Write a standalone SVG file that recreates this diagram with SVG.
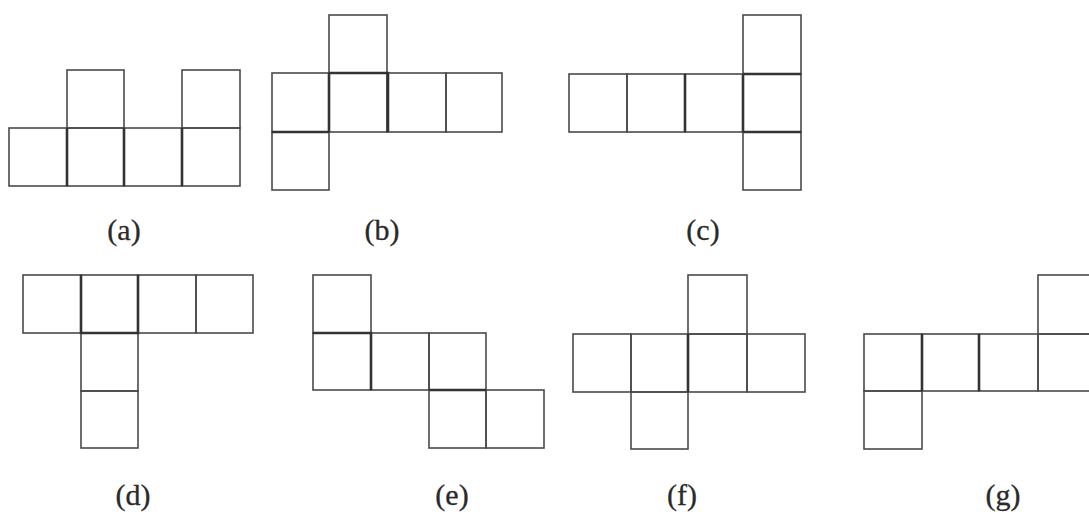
<svg xmlns="http://www.w3.org/2000/svg" width="1089" height="512" viewBox="0 0 1089 512">
<style>
.sq{fill:none;stroke:#4a4a4a;stroke-width:1.6}
.tk{fill:none;stroke:#333;stroke-width:2.6}
.lb{font-family:"Liberation Serif","DejaVu Serif",serif;font-size:30px;fill:#2a2a2a;stroke:#2a2a2a;stroke-width:0.3;text-anchor:middle}
</style>
<rect width="1089" height="512" fill="#fff"/>
<g id="a">
<rect class="sq" x="9" y="128" width="58" height="58"/>
<rect class="sq" x="67" y="128" width="57" height="58"/>
<rect class="sq" x="124" y="128" width="58" height="58"/>
<rect class="sq" x="182" y="128" width="58" height="58"/>
<rect class="sq" x="67" y="70" width="57" height="58"/>
<rect class="sq" x="182" y="70" width="58" height="58"/>
<path class="tk" d="M67 128V186M124 128V186M182 128V186"/>
<text class="lb" x="124" y="240">(a)</text>
</g>
<g id="b">
<rect class="sq" x="329" y="15" width="58" height="58"/>
<rect class="sq" x="272" y="73" width="57" height="59"/>
<rect class="sq" x="329" y="73" width="58" height="59"/>
<rect class="sq" x="387" y="73" width="59" height="59"/>
<rect class="sq" x="446" y="73" width="56" height="59"/>
<rect class="sq" x="272" y="132" width="57" height="58"/>
<path class="tk" d="M329 73H388V132M272 132H329M329 73V132"/>
<text class="lb" x="382" y="240">(b)</text>
</g>
<g id="c">
<rect class="sq" x="569" y="74" width="58" height="58"/>
<rect class="sq" x="627" y="74" width="58" height="58"/>
<rect class="sq" x="685" y="74" width="58" height="58"/>
<rect class="sq" x="743" y="74" width="58" height="58"/>
<rect class="sq" x="743" y="15" width="58" height="59"/>
<rect class="sq" x="743" y="132" width="58" height="58"/>
<path class="tk" d="M685 74V132M743 74V132M743 74H801M743 132H801"/>
<text class="lb" x="703" y="240">(c)</text>
</g>
<g id="d">
<rect class="sq" x="23" y="275" width="58" height="58"/>
<rect class="sq" x="81" y="275" width="57" height="58"/>
<rect class="sq" x="138" y="275" width="58" height="58"/>
<rect class="sq" x="196" y="275" width="57" height="58"/>
<rect class="sq" x="81" y="333" width="57" height="58"/>
<rect class="sq" x="81" y="391" width="57" height="57"/>
<path class="tk" d="M81 275V333H138V275"/>
<text class="lb" x="133" y="505">(d)</text>
</g>
<g id="e">
<rect class="sq" x="313" y="275" width="58" height="58"/>
<rect class="sq" x="313" y="333" width="58" height="57"/>
<rect class="sq" x="371" y="333" width="58" height="57"/>
<rect class="sq" x="429" y="333" width="57" height="57"/>
<rect class="sq" x="429" y="390" width="57" height="58"/>
<rect class="sq" x="486" y="390" width="58" height="58"/>
<path class="tk" d="M313 333H371V390M429 390H486"/>
<text class="lb" x="452" y="505">(e)</text>
</g>
<g id="f">
<rect class="sq" x="688" y="275" width="59" height="59"/>
<rect class="sq" x="573" y="334" width="58" height="58"/>
<rect class="sq" x="631" y="334" width="57" height="58"/>
<rect class="sq" x="688" y="334" width="59" height="58"/>
<rect class="sq" x="747" y="334" width="58" height="58"/>
<rect class="sq" x="631" y="392" width="57" height="57"/>
<path class="tk" d="M688 334V392"/>
<text class="lb" x="682" y="505">(f)</text>
</g>
<g id="g">
<rect class="sq" x="864" y="334" width="58" height="57"/>
<rect class="sq" x="922" y="334" width="57" height="57"/>
<rect class="sq" x="979" y="334" width="59" height="57"/>
<rect class="sq" x="1038" y="334" width="58" height="57"/>
<rect class="sq" x="1038" y="275" width="58" height="59"/>
<rect class="sq" x="864" y="391" width="58" height="58"/>
<path class="tk" d="M922 334V391M979 334V391"/>
<text class="lb" x="1003" y="505">(g)</text>
</g>
</svg>
